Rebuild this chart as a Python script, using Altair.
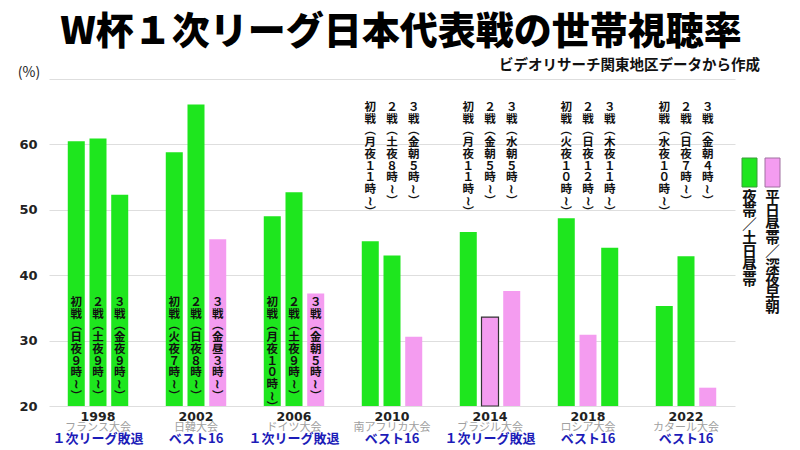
import altair as alt
import pandas as pd

# ---------------- data ----------------
title_text = "W杯１次リーグ日本代表戦の世帯視聴率"
source_text = "ビデオリサーチ関東地区データから作成"
unit_text = "(%)"

years = ["1998", "2002", "2006", "2010", "2014", "2018", "2022"]
hosts = ["フランス大会", "日韓大会", "ドイツ大会", "南アフリカ大会", "ブラジル大会", "ロシア大会", "カタール大会"]
results = ["１次リーグ敗退", "ベスト16", "１次リーグ敗退", "ベスト16", "１次リーグ敗退", "ベスト16", "ベスト16"]
games = ["初戦", "2戦", "3戦"]

ratings = [
    [60.5, 60.9, 52.3],
    [58.8, 66.1, 45.5],
    [49.0, 52.7, 37.2],
    [45.2, 43.0, 30.6],
    [46.6, 33.6, 37.6],
    [48.7, 30.9, 44.2],
    [35.3, 42.9, 22.8],
]
kickoffs = [
    ["日夜9時～", "土夜9時～", "金夜9時～"],
    ["火夜7時～", "日夜8時～", "金昼3時～"],
    ["月夜10時～", "土夜9時～", "金朝5時～"],
    ["月夜11時～", "土夜8時～", "金朝5時～"],
    ["月夜11時～", "金朝5時～", "水朝5時～"],
    ["火夜10時～", "日夜12時～", "木夜11時～"],
    ["水夜10時～", "日夜7時～", "金朝4時～"],
]
cat_night = "夜帯／土日昼帯"
cat_day = "平日昼帯／深夜早朝"
slots = [
    [cat_night, cat_night, cat_night],
    [cat_night, cat_night, cat_day],
    [cat_night, cat_night, cat_day],
    [cat_night, cat_night, cat_day],
    [cat_night, cat_day, cat_day],
    [cat_night, cat_day, cat_night],
    [cat_night, cat_night, cat_day],
]
outlined = [("2014", "2戦")]
axis_min = 20

GREEN = "#1ee61e"
PINK = "#f49cf0"
JP = "Noto Sans CJK JP"

# ---------------- helpers ----------------
VERT = {"（": "︵", "）": "︶", "～": "≀"}


def vertical(s):
    out = []
    for ch in s:
        if ch.isdigit() and ord(ch) < 128:
            ch = chr(ord(ch) + 0xFEE0)
        out.append(VERT.get(ch, ch))
    return out


rows = []
for yi, y in enumerate(years):
    for gi, g in enumerate(games):
        rows.append({
            "year": y,
            "game": g,
            "rating": ratings[yi][gi],
            "slot": slots[yi][gi],
            "label": vertical(g + "（" + kickoffs[yi][gi] + "）"),
            "inside": int(y) <= 2006,
            "edge": "#333333" if (y, g) in outlined else "transparent",
        })
df = pd.DataFrame(rows)
groups = pd.DataFrame({"year": years, "host": hosts, "result": results})

W, H = 686, 327

xenc = alt.X("year:N", sort=years, axis=None,
             scale=alt.Scale(paddingInner=0, paddingOuter=0))
xoff = alt.XOffset("game:N", sort=games,
                   scale=alt.Scale(paddingInner=0.217, paddingOuter=0.864))

bars = alt.Chart(df).mark_bar(strokeWidth=1.2).encode(
    x=xenc,
    xOffset=xoff,
    y=alt.Y("rating:Q",
            scale=alt.Scale(domain=[axis_min, 70], nice=False, zero=False),
            axis=alt.Axis(values=[20, 30, 40, 50, 60, 70],
                          labelExpr="datum.value == 70 ? '' : datum.label",
                          grid=True, gridColor="#dedede", gridWidth=1,
                          domain=False, ticks=False, labelPadding=12,
                          labelFont="DejaVu Sans", labelFontWeight="bold",
                          labelFontSize=13, labelColor="#222222", title=None)),
    y2=alt.datum(axis_min),
    color=alt.Color("slot:N", scale=alt.Scale(domain=[cat_night, cat_day],
                                              range=[GREEN, PINK]), legend=None),
    stroke=alt.Stroke("edge:N", scale=None),
)

lab_in = alt.Chart(df).transform_filter("datum.inside").mark_text(
    font=JP, fontWeight="bold", fontSize=11.5, lineHeight=11.7,
    baseline="top", align="center", color="#111111"
).encode(x=xenc, xOffset=xoff, y=alt.value(218), text="label")

lab_out = alt.Chart(df).transform_filter("!datum.inside").mark_text(
    font=JP, fontWeight="bold", fontSize=11.5, lineHeight=11.7,
    baseline="top", align="center", color="#111111"
).encode(x=xenc, xOffset=xoff, y=alt.value(23), text="label")

yr_text = alt.Chart(groups).mark_text(
    font="DejaVu Sans", fontWeight="bold", fontSize=12.5, color="#222222",
    baseline="middle"
).encode(x=xenc, y=alt.value(H + 11), text="year:N")

host_text = alt.Chart(groups).mark_text(
    font=JP, fontSize=11, color="#a0a0a0", baseline="middle"
).encode(x=xenc, y=alt.value(H + 21.5), text="host:N")

res_text = alt.Chart(groups).mark_text(
    font=JP, fontWeight="bold", fontSize=13, color="#1c1cb8", baseline="middle"
).encode(x=xenc, y=alt.value(H + 33), text="result:N")

one = pd.DataFrame({"t": [title_text]})
title = alt.Chart(one).mark_text(
    font=JP, fontWeight=900, fontSize=38, color="#000000",
    align="center", baseline="middle"
).encode(x=alt.value(352), y=alt.value(-46), text="t:N")

src = alt.Chart(pd.DataFrame({"t": [source_text]})).mark_text(
    font=JP, fontWeight="bold", fontSize=14.5, color="#111111",
    align="right", baseline="middle"
).encode(x=alt.value(711), y=alt.value(-13), text="t:N")

unit = alt.Chart(pd.DataFrame({"t": [unit_text]})).mark_text(
    font=JP, fontSize=14, color="#222222", align="center", baseline="middle"
).encode(x=alt.value(-20), y=alt.value(-6), text="t:N")

leg_g = alt.Chart(pd.DataFrame({"t": [cat_night]})).mark_rect(
    color=GREEN, stroke="#3a9a3a", strokeWidth=1
).encode(x=alt.value(693), x2=alt.value(708), y=alt.value(79), y2=alt.value(108))
leg_p = alt.Chart(pd.DataFrame({"t": [cat_day]})).mark_rect(
    color=PINK, stroke="#a070a0", strokeWidth=1
).encode(x=alt.value(716), x2=alt.value(731), y=alt.value(79), y2=alt.value(108))

leg_gt = alt.Chart(pd.DataFrame({"t": [vertical(cat_night)]})).mark_text(
    font=JP, fontWeight="bold", fontSize=14.5, lineHeight=13.8,
    baseline="top", align="center", color="#111111"
).encode(x=alt.value(700.5), y=alt.value(112), text="t")
leg_pt = alt.Chart(pd.DataFrame({"t": [vertical(cat_day)]})).mark_text(
    font=JP, fontWeight="bold", fontSize=14.5, lineHeight=13.8,
    baseline="top", align="center", color="#111111"
).encode(x=alt.value(723.5), y=alt.value(112), text="t")

chart = alt.layer(
    bars, lab_in, lab_out, yr_text, host_text, res_text,
    title, src, unit, leg_g, leg_p, leg_gt, leg_pt
).properties(
    width=W, height=H,
    autosize=alt.AutoSizeParams(type="none"),
    padding={"left": 41, "top": 71, "right": 57, "bottom": 44},
    background="white",
).configure_view(stroke=None)

chart.save("out.html", embed_options={"renderer": "svg", "actions": False})
